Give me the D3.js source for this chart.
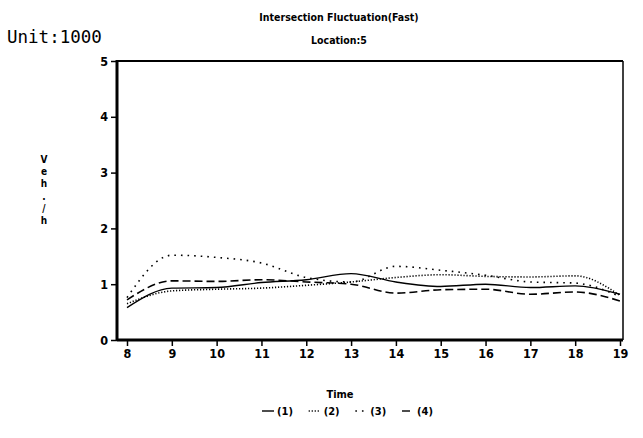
<!DOCTYPE html>
<html>
<head>
<meta charset="utf-8">
<script src="https://cdn.jsdelivr.net/npm/d3@7"></script>
<style>
  body { margin: 0; background: #fff; }
  svg { display: block; }
  text { font-family: "DejaVu Sans Condensed", "DejaVu Sans", sans-serif; font-weight: bold; fill: #000; }
</style>
</head>
<body>
<div id="chart"></div>
<script>
// hours on the x axis
const hours = [8, 9, 10, 11, 12, 13, 14, 15, 16, 17, 18, 19];
// values in thousands of vehicles per hour
const series1 = [0.58, 0.93, 0.94, 1.03, 1.08, 1.19, 1.04, 0.96, 1.00, 0.94, 0.97, 0.82];
const series2 = [0.65, 0.88, 0.91, 0.93, 0.98, 1.04, 1.12, 1.17, 1.14, 1.13, 1.15, 0.80];
const series3 = [0.76, 1.52, 1.48, 1.38, 1.12, 1.04, 1.32, 1.25, 1.16, 1.04, 1.02, 0.78];
const series4 = [0.72, 1.06, 1.05, 1.08, 1.04, 1.00, 0.84, 0.90, 0.91, 0.82, 0.86, 0.70];
const seriesNames = ["(1)", "(2)", "(3)", "(4)"];
const yTicks = [0, 1, 2, 3, 4, 5];
const yLabelChars = ["V", "e", "h", ".", "/", "h"];

const width = 643, height = 438;
const box = { left: 117, right: 623, top: 61, bottom: 340 };

const svg = d3.create("svg")
    .attr("width", width)
    .attr("height", height)
    .attr("viewBox", [0, 0, width, height]);

const x = d3.scaleLinear().domain([8, 19]).range([127, 620]);
const y = d3.scaleLinear().domain([0, 5]).range([box.bottom, box.top]);

// titles
svg.append("text").attr("x", 339).attr("y", 21).attr("text-anchor", "middle")
    .style("font-size", "10.5px").text("Intersection Fluctuation(Fast)");
svg.append("text").attr("x", 339).attr("y", 44).attr("text-anchor", "middle")
    .style("font-size", "10.5px").text("Location:5");
svg.append("text").attr("x", 7).attr("y", 43)
    .style("font-family", "'DejaVu Sans Mono', monospace").style("font-weight", "normal")
    .style("font-size", "17.5px").text("Unit:1000");

// y label, one letter per row
svg.append("g").selectAll("text")
    .data(yLabelChars)
    .join("text")
    .attr("x", 44)
    .attr("y", (d, i) => 163 + i * 12.2)
    .attr("text-anchor", "middle")
    .style("font-size", "10px")
    .text(d => d);

// axes
const xAxis = d3.axisBottom(x).tickValues(hours).tickSize(6).tickPadding(3).tickFormat(d3.format("d"));
const yAxis = d3.axisLeft(y).tickValues(yTicks).tickSize(6).tickPadding(3).tickFormat(d3.format("d"));

svg.append("g")
    .attr("transform", `translate(0,${box.bottom})`)
    .call(xAxis)
    .call(g => g.select(".domain").remove())
    .call(g => g.selectAll(".tick line").attr("stroke", "#000").attr("stroke-width", 1.5))
    .call(g => g.selectAll(".tick text").style("font-size", "12.5px")
        .style("font-family", "'DejaVu Sans Condensed', sans-serif").style("font-weight", "bold"));

svg.append("g")
    .attr("transform", `translate(${box.left},0)`)
    .call(yAxis)
    .call(g => g.select(".domain").remove())
    .call(g => g.selectAll(".tick line").attr("stroke", "#000").attr("stroke-width", 1.5))
    .call(g => g.selectAll(".tick text").style("font-size", "12.5px")
        .style("font-family", "'DejaVu Sans Condensed', sans-serif").style("font-weight", "bold"));

// frame
const frame = svg.append("g").attr("stroke", "#000").attr("fill", "none");
frame.append("line").attr("x1", box.left).attr("x2", box.right).attr("y1", box.top).attr("y2", box.top).attr("stroke-width", 2);
frame.append("line").attr("x1", box.right).attr("x2", box.right).attr("y1", box.top).attr("y2", box.bottom).attr("stroke-width", 1.5);
frame.append("line").attr("x1", box.left).attr("x2", box.right).attr("y1", box.bottom).attr("y2", box.bottom).attr("stroke-width", 3);
frame.append("line").attr("x1", box.left).attr("x2", box.left).attr("y1", box.top - 1).attr("y2", box.bottom + 1).attr("stroke-width", 3);

// lines
const allSeries = [series1, series2, series3, series4];
const dashes = [null, "1.2,1.8", "1.6,5", "8,4"];

const line = d3.line()
    .curve(d3.curveMonotoneX)
    .x((d, i) => x(hours[i]))
    .y(d => y(d));

svg.append("g").selectAll("path")
    .data(allSeries)
    .join("path")
    .attr("fill", "none")
    .attr("stroke", "#000")
    .attr("stroke-width", (d, i) => i === 0 ? 1.4 : 1.6)
    .attr("stroke-dasharray", (d, i) => dashes[i])
    .attr("d", d => line(d));

// x title and legend
svg.append("text").attr("x", 340).attr("y", 398).attr("text-anchor", "middle")
    .style("font-size", "11px").text("Time");

const legendX = d3.scalePoint().domain(seriesNames).range([262, 402]);
const legend = svg.append("g").selectAll("g")
    .data(seriesNames)
    .join("g")
    .attr("transform", d => `translate(${legendX(d)},415)`);
legend.append("line")
    .attr("x1", 0).attr("x2", 12).attr("y1", -4).attr("y2", -4)
    .attr("stroke", "#000").attr("stroke-width", 1.4)
    .attr("stroke-dasharray", (d, i) => dashes[i]);
legend.append("text")
    .attr("x", 15)
    .style("font-size", "11px")
    .text(d => d);

document.getElementById("chart").appendChild(svg.node());
</script>
</body>
</html>
